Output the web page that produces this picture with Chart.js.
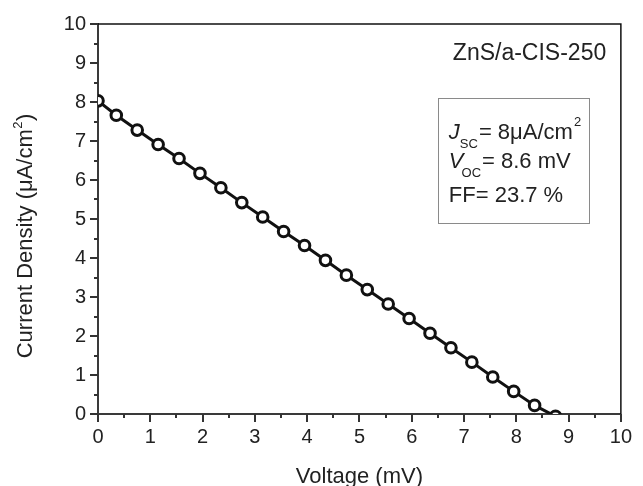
<!DOCTYPE html>
<html>
<head>
<meta charset="utf-8">
<script src="https://cdn.jsdelivr.net/npm/chart.js@4.4.0/dist/chart.umd.min.js"></script>
<style>
html,body{margin:0;padding:0;background:#fff;}
#wrap{width:643px;height:486px;position:relative;}
</style>
</head>
<body>
<div id="wrap"><canvas id="c" width="643" height="486"></canvas></div>
<script>
// ---- data ----
const voltage = [0, 0.35, 0.75, 1.15, 1.55, 1.95, 2.35, 2.75, 3.15, 3.55, 3.95, 4.35, 4.75, 5.15, 5.55, 5.95, 6.35, 6.75, 7.15, 7.55, 7.95, 8.35, 8.75];
const currentDensity = [8.03, 7.66, 7.28, 6.91, 6.55, 6.17, 5.80, 5.42, 5.05, 4.68, 4.32, 3.94, 3.56, 3.19, 2.82, 2.45, 2.07, 1.70, 1.33, 0.95, 0.58, 0.22, -0.06];
const xTicks = [0, 1, 2, 3, 4, 5, 6, 7, 8, 9, 10];
const yTicks = [0, 1, 2, 3, 4, 5, 6, 7, 8, 9, 10];
const sampleLabel = "ZnS/a-CIS-250";
const jscText = "= 8\u03BCA/cm";
const vocText = "= 8.6 mV";
const ffText = "FF= 23.7 %";
const xTitle = "Voltage (mV)";
const yTitle = "Current Density (\u03BCA/cm";

const FONT = "'Liberation Sans', Arial, Helvetica, sans-serif";
const points = voltage.map((v, i) => ({x: v, y: currentDensity[i]}));

const decor = {
  id: 'decor',
  afterDraw(chart) {
    const ctx = chart.ctx;
    const a = chart.chartArea;
    const xs = chart.scales.x, ys = chart.scales.y;
    ctx.save();
    // top & right spines
    ctx.strokeStyle = '#111';
    ctx.lineWidth = 1.5;
    ctx.beginPath();
    ctx.moveTo(a.left, a.top); ctx.lineTo(a.right, a.top); ctx.lineTo(a.right, a.bottom);
    ctx.stroke();
    // major/minor ticks (outward)
    ctx.strokeStyle = '#333';
    ctx.lineWidth = 2;
    for (let k = 0; k <= 20; k++) {
      const v = k / 2;
      const len = (k % 2 === 0) ? 8 : 4;
      const px = Math.round(xs.getPixelForValue(v));
      ctx.beginPath(); ctx.moveTo(px, a.bottom); ctx.lineTo(px, a.bottom + len); ctx.stroke();
      const py = Math.round(ys.getPixelForValue(v));
      ctx.beginPath(); ctx.moveTo(a.left, py); ctx.lineTo(a.left - len, py); ctx.stroke();
    }
    // axis titles
    ctx.fillStyle = '#222';
    ctx.font = '22px ' + FONT;
    ctx.textBaseline = 'alphabetic';
    ctx.textAlign = 'center';
    ctx.fillText(xTitle, (a.left + a.right) / 2, 483);
    // y title rotated, with superscript
    ctx.save();
    const cy = (a.top + a.bottom) / 2 + 17;
    ctx.translate(32, cy);
    ctx.rotate(-Math.PI / 2);
    ctx.textAlign = 'left';
    ctx.font = '22px ' + FONT;
    const w1 = ctx.measureText(yTitle).width;
    ctx.font = '13px ' + FONT;
    const w2 = ctx.measureText('2').width;
    ctx.font = '22px ' + FONT;
    const w3 = ctx.measureText(')').width;
    const total = w1 + w2 + 1 + w3;
    let x0 = -total / 2;
    ctx.fillText(yTitle, x0, 0);
    ctx.font = '13px ' + FONT;
    ctx.fillText('2', x0 + w1 + 0.5, -10);
    ctx.font = '22px ' + FONT;
    ctx.fillText(')', x0 + w1 + w2 + 1, 0);
    ctx.restore();

    // sample label
    ctx.textAlign = 'right';
    ctx.font = '23px ' + FONT;
    ctx.fillText(sampleLabel, xs.getPixelForValue(9.72), ys.getPixelForValue(9.08));

    // parameter box
    const bx0 = xs.getPixelForValue(6.5), bx1 = xs.getPixelForValue(9.38);
    const by0 = ys.getPixelForValue(8.09), by1 = ys.getPixelForValue(4.88);
    ctx.strokeStyle = '#8a8a8a';
    ctx.lineWidth = 1;
    ctx.strokeRect(Math.round(bx0) + 0.5, Math.round(by0) + 0.5, Math.round(bx1 - bx0), Math.round(by1 - by0));

    ctx.textAlign = 'left';
    const tx = xs.getPixelForValue(6.71);
    // line 1: J_SC = 8 uA/cm^2
    let b1 = ys.getPixelForValue(7.04);
    let x = tx;
    ctx.font = 'italic 22px ' + FONT;
    ctx.fillText('J', x, b1); x += ctx.measureText('J').width;
    ctx.font = '13px ' + FONT;
    ctx.fillText('SC', x, b1 + 9); x += ctx.measureText('SC').width + 1;
    ctx.font = '22px ' + FONT;
    ctx.fillText(jscText, x, b1); x += ctx.measureText(jscText).width + 1;
    ctx.font = '13px ' + FONT;
    ctx.fillText('2', x, b1 - 13);
    // line 2: V_OC = 8.6 mV
    let b2 = ys.getPixelForValue(6.32);
    x = tx;
    ctx.font = 'italic 22px ' + FONT;
    ctx.fillText('V', x, b2); x += ctx.measureText('V').width - 2;
    ctx.font = '13px ' + FONT;
    ctx.fillText('OC', x, b2 + 9); x += ctx.measureText('OC').width + 1;
    ctx.font = '22px ' + FONT;
    ctx.fillText(vocText, x, b2);
    // line 3
    let b3 = ys.getPixelForValue(5.43);
    ctx.fillText(ffText, tx, b3);
    ctx.restore();
  }
};

new Chart(document.getElementById('c'), {
  type: 'scatter',
  data: {
    datasets: [{
      data: points,
      showLine: true,
      borderColor: '#111',
      borderWidth: 3,
      tension: 0,
      pointRadius: 5.3,
      pointHoverRadius: 5.3,
      pointBorderWidth: 3,
      pointBackgroundColor: '#fff',
      pointBorderColor: '#111',
      clip: 0
    }]
  },
  options: {
    responsive: false,
    animation: false,
    events: [],
    layout: {padding: {top: 23, right: 13, left: 0, bottom: 0}},
    plugins: {legend: {display: false}, tooltip: {enabled: false}},
    scales: {
      x: {
        type: 'linear', min: 0, max: 10,
        afterBuildTicks: s => { s.ticks = xTicks.map(v => ({value: v})); },
        afterFit: s => { s.height = 72; },
        grid: {display: false, drawTicks: false},
        border: {display: true, color: '#3a3a3a', width: 2},
        ticks: {color: '#222', font: {family: FONT, size: 20}, padding: 11, maxRotation: 0, autoSkip: false}
      },
      y: {
        type: 'linear', min: 0, max: 10,
        afterBuildTicks: s => { s.ticks = yTicks.map(v => ({value: v})); },
        afterFit: s => { s.width = 98; },
        grid: {display: false, drawTicks: false},
        border: {display: true, color: '#3a3a3a', width: 2},
        ticks: {color: '#222', font: {family: FONT, size: 20}, padding: 12, autoSkip: false}
      }
    }
  },
  plugins: [decor]
});
</script>
</body>
</html>
